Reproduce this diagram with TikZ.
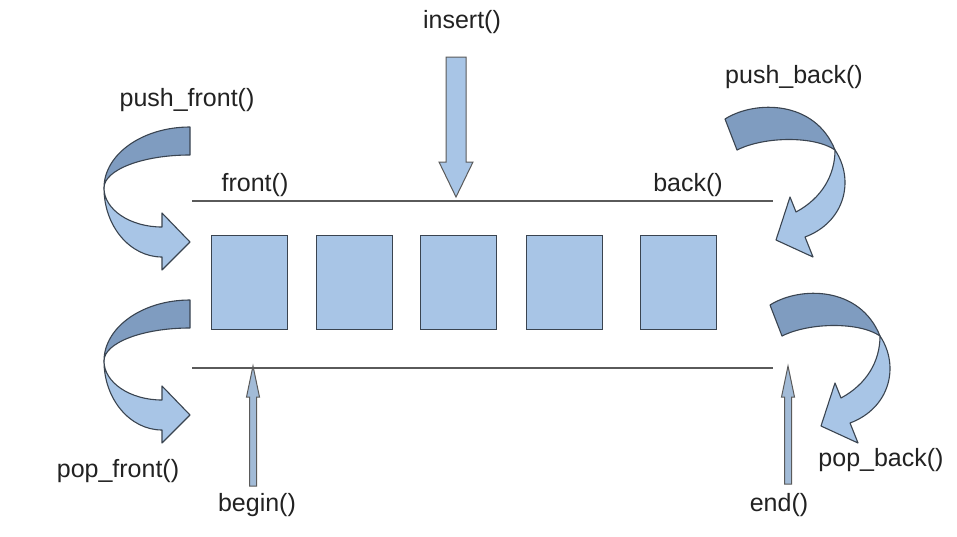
\documentclass[tikz,border=0pt]{standalone}
\usepackage{fontspec}
\setmainfont{Liberation Sans}
\definecolor{boxfill}{HTML}{A8C5E6}
\definecolor{darkfill}{HTML}{7F9CC0}
\definecolor{edge}{HTML}{3A4450}
\definecolor{linegray}{HTML}{5A5A5A}
\definecolor{txt}{HTML}{222222}
\begin{document}
\begin{tikzpicture}[x=1pt,y=-1pt,
  lbl/.style={anchor=base,inner sep=0pt,text=txt,font=\fontsize{25}{28}\selectfont},
  cell/.style={draw=edge,line width=1.3pt,fill=boxfill,minimum width=76pt,minimum height=94pt,inner sep=0pt,anchor=north west},
  rail/.style={draw=linegray,line width=1.2pt},
  band/.style={draw=edge,line width=1.1pt,line join=round},
  straightarrow/.style={draw=linegray,line width=1pt,fill=boxfill,line join=miter},
  thinarrow/.style={draw=linegray,line width=1pt,fill=boxfill!85!gray,line join=miter}]
\path[use as bounding box,fill=white] (0,0) rectangle (957,536);

% cells
\node[cell] (c1) at (211,235) {};
\node[cell] (c2) at (316,235) {};
\node[cell] (c3) at (420,235) {};
\node[cell] (c4) at (526,235) {};
\node[cell] (c5) at (640,235) {};

% rails
\coordinate (tl) at (192,201); \coordinate (tr) at (773,201);
\coordinate (bl) at (192,368); \coordinate (br) at (773,368);
\draw[rail] (tl) -- (tr);
\draw[rail] (bl) -- (br);

% labels
\node[lbl] (lins) at (462,28) {insert()};
\node[lbl] (lpf) at (187,106) {push\_front()};
\node[lbl] (lfront) at (255,191) {front()};
\node[lbl] (lback) at (688,191) {back()};
\node[lbl] (lpb) at (794,83) {push\_back()};
\node[lbl] (lpopf) at (118,477) {pop\_front()};
\node[lbl] (lbegin) at (257,511) {begin()};
\node[lbl] (lend) at (779,511) {end()};
\node[lbl] (lpopb) at (881,466) {pop\_back()};

% insert arrow
\draw[straightarrow] (446,57) -- (466,57) -- (466,162) -- (473,162) -- (456,197) -- (439,162) -- (446,162) -- cycle;

% begin / end arrows
\draw[thinarrow] (249.5,486) -- (256.5,486) -- (256.5,397) -- (259.5,397) -- (253,366) -- (246.5,397) -- (249.5,397) -- cycle;
\draw[thinarrow] (784.5,484) -- (791.5,484) -- (791.5,397) -- (794.5,397) -- (788,366) -- (781.5,397) -- (784.5,397) -- cycle;

% left curved arrows (push_front, pop_front)
\foreach \dy in {0,173}{
\begin{scope}[yshift=-\dy pt]
\draw[band,fill=darkfill] (190,127) .. controls (142.5,127) and (104,154.3) .. (104,188)
   .. controls (104,169.8) and (142.5,155) .. (190,155) -- cycle;
\draw[band,fill=boxfill] (104,188) .. controls (104,226.1) and (130,257) .. (162,257)
   -- (162,270) -- (190,242) -- (162,213) -- (162,227)
   .. controls (130,227) and (104,209.5) .. (104,188) -- cycle;
\end{scope}}

% right curved arrows (push_back, pop_back)
\foreach \dx/\dy in {0/0,45/186}{
\begin{scope}[xshift=\dx pt,yshift=-\dy pt]
\draw[band,fill=darkfill] (725,119) .. controls (755,100) and (815,100) .. (835,150)
   .. controls (815,136) and (765,136) .. (737,150) -- cycle;
\draw[band,fill=boxfill] (835,150) .. controls (855,180) and (845,222) .. (805,237)
   -- (813,257) -- (776,240) -- (790,197) -- (796,212)
   .. controls (822,198) and (835,175) .. (835,150) -- cycle;
\end{scope}}
\end{tikzpicture}
\end{document}
